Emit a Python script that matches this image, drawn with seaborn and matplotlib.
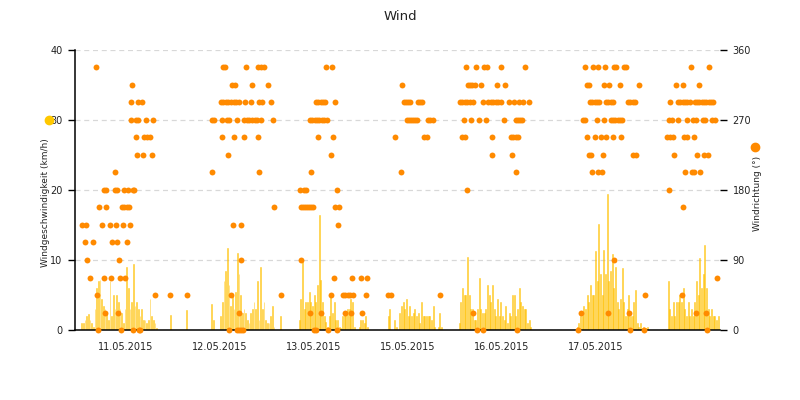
import matplotlib
matplotlib.use("Agg")
import matplotlib.pyplot as plt
import seaborn as sns
import pandas as pd
from matplotlib.lines import Line2D

sns.set_style("white")
plt.rcParams['font.family'] = ['DejaVu Sans']

# ---------------- data ----------------
# time axis in hours; day boundaries every 24 h
day_labels = ["11.05.2015", "12.05.2015", "13.05.2015", "15.05.2015", "16.05.2015", "17.05.2015"]
day_bounds = [24, 48, 72, 96, 120, 144]
label_pos = [12, 36, 60, 84, 108, 132]

STEP = 0.4255  # hours between wind-speed samples

# wind speed (km/h) segments: start hour + consecutive samples
speed_seg1 = (0.68, [1, 1, 1.5, 2, 2.3, 1.5, 1, 0.5, 3, 6, 7, 7.2, 4.5, 3.5, 3, 2.5, 1.5, 7, 2, 5,
                     3, 5, 4, 3, 2.5, 1, 3, 9, 6, 3, 4, 9.4, 3.5, 4, 3, 2, 3, 1.5, 1.5, 1,
                     1.5, 4.5, 2, 1.5, 1, 0.3])
speed_seg2 = (23.31, [2.1])
speed_seg3 = (27.50, [2.8])
speed_seg4 = (33.88, [3.7, 1.5])
speed_seg5 = (36.18, [2, 4, 7, 8.5, 11.7, 6.5, 3.5, 5, 3, 5.5, 11, 8, 5, 2.5, 3, 2.5, 1.5, 1, 2.5, 3,
                      4, 3, 7, 1.5, 9, 3, 4, 1.5, 1, 1, 2, 3.5, 0.5])
speed_seg6 = (51.57, [2.0])
speed_seg7 = (56.25, [1.5, 4.5, 9.7, 3, 4, 4, 5.5, 4, 3.5, 5, 4, 6.5, 16.5, 7.2, 4, 2, 1.2, 0.5, 2, 5,
                      2.5, 4, 1.5, 1.5, 0.5, 0.3, 2, 2.5, 2.5, 3, 3, 4.5, 4, 0.5, 0, 0, 0.5, 1.5, 1.5, 1,
                      2, 0.5])
speed_seg8 = (78.97, [2, 3, 0, 0, 1.5, 0.5, 0, 2.5, 3.5, 4, 3, 4.5, 2, 3.5, 2, 2.5, 3, 2, 2.5, 1,
                      4, 2, 2, 2, 2, 2, 1.5, 3.5, 0.5, 0, 0.5, 2.5, 0.5])
speed_seg9 = (97.10, [1, 4, 6, 5, 5, 10.5, 5, 3, 3, 1.5, 1.5, 3, 7.5, 3, 2.5, 2.5, 3,
                      6.5, 5, 4, 6.5, 3, 2, 4.5, 2, 4, 2, 1.5, 3.5, 1, 2.5, 2, 5, 5, 2, 3,
                      6, 4, 3.5, 3, 3, 1, 1.5, 0.5])
speed_seg10 = (127.23, [0.5, 1, 2, 2, 3.5, 3, 5, 4, 6.5, 5, 5, 11.3, 7, 15.1, 8, 5, 11.5, 8, 19.4, 7,
                        8.5, 10.8, 6, 9, 4, 3, 4.5, 8.8, 4, 2, 3, 5, 2, 2, 4, 5.7, 1, 0.5, 1, 0.3,
                        0.5, 0.3, 0.5])
speed_seg11 = (150.46, [7, 3, 2, 4, 2, 4, 4, 5, 4, 6, 3, 2, 4, 2, 3, 2, 4, 7, 5, 10.3,
                        6, 8, 12.1, 6, 3, 2, 3, 2, 2, 1.5, 2])

# wind direction (deg): hours at which each compass direction was measured
dir_337_5 = [4.26, 36.69, 37.28, 42.56, 45.78, 46.47, 47.16, 62.99, 64.60, 98.89, 101.36, 103.53,
             104.17, 107.75, 113.95, 129.27, 131.31, 132.43, 134.30, 136.52, 137.11, 139.07,
             139.66, 156.26, 160.93]
dir_315 = [13.53, 38.99, 39.83, 44.09, 48.26, 82.47, 99.24, 99.83, 100.42, 101.03, 102.64, 106.80,
           108.77, 129.63, 130.14, 134.04, 135.24, 138.13, 143.06, 152.35, 154.14, 158.30]
dir_292_5 = [13.28, 15.06, 16.01, 36.18, 36.84, 37.53, 38.12, 38.81, 39.50, 40.16, 40.77, 42.38,
             43.92, 46.03, 46.80, 49.02, 60.51, 61.10, 61.71, 62.38, 62.81, 65.44, 82.98, 83.49,
             84.08, 84.51, 86.55, 87.14, 87.65, 97.28, 97.86, 98.55, 99.14, 99.83, 100.52, 103.07,
             104.50, 105.11, 105.78, 106.39, 107.06, 107.67, 109.71, 110.99, 112.42, 113.36, 114.89,
             130.47, 131.06, 131.67, 132.26, 132.84, 134.55, 135.14, 135.75, 136.42, 140.17, 140.76,
             141.37, 141.96, 150.89, 152.94, 153.52, 154.14, 154.72, 155.31, 155.92, 157.20, 157.79,
             158.37, 158.99, 159.58, 160.16, 160.77, 161.36, 161.95]
dir_270 = [13.28, 14.55, 15.06, 17.11, 18.89, 33.88, 34.54, 36.43, 37.71, 38.37, 40.26, 42.13,
           42.82, 43.48, 44.17, 44.86, 45.52, 46.47, 49.53, 58.98, 59.57, 60.18, 60.77, 61.35,
           61.97, 62.55, 63.24, 83.82, 84.33, 84.84, 85.35, 85.87, 86.37, 89.18, 89.69, 90.31,
           98.22, 100.01, 102.21, 103.92, 108.59, 111.58, 112.09, 112.60, 113.18, 128.76, 129.27,
           132.33, 133.97, 135.75, 136.34, 136.93, 137.54, 138.13, 138.72, 150.71, 151.33, 152.94,
           155.16, 156.84, 157.46, 159.24, 159.83, 161.54, 162.31]
dir_247_5 = [14.55, 16.60, 17.36, 18.13, 36.59, 39.50, 42.05, 45.70, 61.10, 64.77, 80.76, 88.16,
             88.78, 97.79, 98.55, 105.52, 110.22, 110.89, 111.50, 112.01, 129.78, 131.67, 133.20,
             134.63, 136.26, 138.46, 150.20, 150.89, 151.58, 154.47, 155.31, 157.02]
dir_225 = [14.73, 16.26, 18.56, 38.04, 64.34, 105.37, 110.48, 130.29, 130.72, 133.71, 141.52,
           142.14, 151.84, 157.79, 159.65, 160.52]
dir_202_5 = [9.19, 33.96, 46.03, 59.23, 82.14, 111.50, 130.90, 132.59, 133.53, 154.80, 156.51,
             157.10, 158.48]
dir_180 = [6.31, 6.82, 9.11, 9.63, 11.57, 12.59, 13.71, 14.04, 56.43, 57.45, 58.03, 65.80, 98.99,
           150.64]
dir_157_5 = [5.11, 6.82, 10.90, 11.57, 12.26, 12.84, 49.71, 56.60, 57.12, 57.63, 58.14, 58.72,
             59.23, 59.75, 65.36, 66.31, 154.29]
dir_135 = [0.69, 1.86, 5.95, 7.91, 9.45, 11.23, 12.94, 39.24, 41.28, 66.05]
dir_112_5 = [1.46, 3.50, 8.50, 9.63, 12.26]
dir_90 = [2.12, 10.21, 41.44, 56.76, 136.67]
dir_67_5 = [2.73, 6.31, 8.25, 10.47, 11.74, 65.18, 69.70, 72.00, 73.53, 162.89]
dir_45 = [4.52, 19.40, 23.31, 27.50, 38.73, 51.65, 64.26, 67.33, 67.92, 68.60, 69.19, 69.96,
          73.20, 78.97, 79.58, 92.25, 144.59, 153.88]
dir_22_5 = [6.56, 9.96, 40.85, 58.98, 61.71, 67.92, 69.52, 72.33, 100.67, 128.17, 134.99, 140.43,
            157.53, 160.01]
dir_0 = [4.85, 10.80, 13.86, 15.32, 15.57, 38.30, 40.26, 40.85, 41.28, 41.80, 60.08, 60.51, 63.65,
         65.95, 101.54, 103.07, 111.75, 127.48, 140.68, 144.33, 160.42]

# ---------------- assemble ----------------
segments = [speed_seg1, speed_seg2, speed_seg3, speed_seg4, speed_seg5, speed_seg6, speed_seg7,
            speed_seg8, speed_seg9, speed_seg10, speed_seg11]
sp_t, sp_v = [], []
for start, vals in segments:
    for i, v in enumerate(vals):
        sp_t.append(start + i * STEP)
        sp_v.append(v)

dir_levels = [(337.5, dir_337_5), (315, dir_315), (292.5, dir_292_5), (270, dir_270),
              (247.5, dir_247_5), (225, dir_225), (202.5, dir_202_5), (180, dir_180),
              (157.5, dir_157_5), (135, dir_135), (112.5, dir_112_5), (90, dir_90),
              (67.5, dir_67_5), (45, dir_45), (22.5, dir_22_5), (0, dir_0)]
rows = [(t, deg) for deg, ts in dir_levels for t in ts]
dir_df = pd.DataFrame(rows, columns=["hour", "deg"])

YELLOW = "#FFC61A"
ORANGE = "#FF8A00"

# ---------------- figure ----------------
fig = plt.figure(figsize=(8, 4), dpi=100)
ax = fig.add_axes([75 / 800, 70 / 400, 645 / 800, 280 / 400])

ax.bar(sp_t, sp_v, width=STEP * 0.55, color=YELLOW, edgecolor="#FFC000", linewidth=0.4,
       alpha=0.8, zorder=2)

ax.set_xlim(-1.02, 163.7)
ax.set_ylim(0, 40)
ax.set_yticks([0, 10, 20, 30, 40])
ax.yaxis.grid(True, linestyle=(0, (4, 3)), color="#d8d8d8", linewidth=0.9, zorder=0)
ax.xaxis.grid(False)
ax.set_axisbelow(True)

ax.set_xticks(day_bounds)
ax.set_xticklabels([])
ax.set_xticks(label_pos, minor=True)
ax.set_xticklabels(day_labels, minor=True)
ax.tick_params(axis="x", which="major", length=5, width=1, color="black", direction="out")
ax.tick_params(axis="x", which="minor", length=0, labelsize=7, pad=9, colors="#222222")
ax.tick_params(axis="y", which="major", length=5, width=1, color="black", direction="out",
               labelsize=7, labelcolor="#222222", pad=4, left=True)

for side in ["top", "right"]:
    ax.spines[side].set_visible(False)
for side in ["left", "bottom"]:
    ax.spines[side].set_color("black")
    ax.spines[side].set_linewidth(1.1)

ax2 = ax.twinx()
sns.scatterplot(data=dir_df, x="hour", y="deg", ax=ax2, color=ORANGE, s=18, linewidth=0,
                clip_on=False, zorder=4, legend=False)
ax2.set_ylim(0, 360)
ax2.set_yticks([0, 90, 180, 270, 360])
ax2.set_ylabel("")
ax2.set_xlabel("")
ax.set_xlabel("")
ax.set_ylabel("")
for side in ["top", "right", "left", "bottom"]:
    ax2.spines[side].set_visible(False)
ax2.tick_params(axis="y", which="major", length=5, width=1, color="black", direction="out",
                labelsize=7, labelcolor="#222222", pad=4, right=True)
ax2.set_xlim(-1.02, 163.7)

# titles
fig.text(0.5, 1 - 16 / 400, "Wind", ha="center", va="center", fontsize=9.5, color="#222222")
fig.text(46 / 800, 1 - 203 / 400, "Windgeschwindigkeit (km/h)", rotation=90, ha="center",
         va="center", fontsize=6.5, color="#222222")
fig.text(757 / 800, 1 - 193 / 400, "Windrichtung (°)", rotation=90, ha="center",
         va="center", fontsize=6.5, color="#222222")
fig.add_artist(Line2D([49 / 800], [1 - 120 / 400], marker="o", color="#FFC800", markersize=6,
                      linestyle="none", transform=fig.transFigure))
fig.add_artist(Line2D([755 / 800], [1 - 147 / 400], marker="o", color=ORANGE, markersize=6,
                      linestyle="none", transform=fig.transFigure))

fig.savefig("out.png", dpi=100)
